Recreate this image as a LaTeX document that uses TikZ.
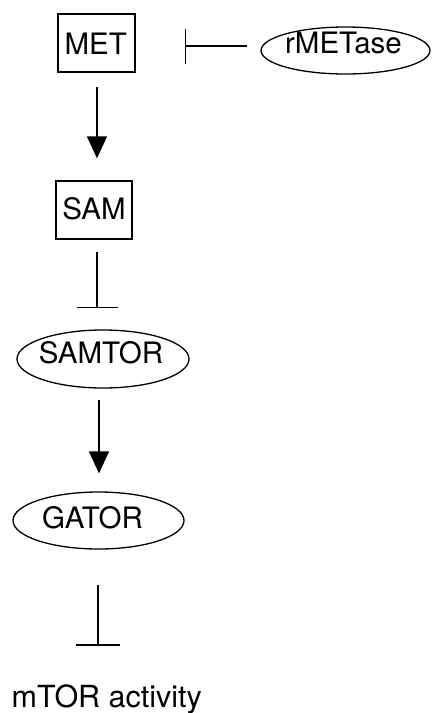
\documentclass[tikz,border=0pt]{standalone}
\usepackage{fontspec}
\setmainfont{TeX Gyre Heros}
\usetikzlibrary{shapes.geometric,arrows.meta}
\begin{document}
\begin{tikzpicture}[x=1pt,y=1pt, line width=1.3pt,
  box/.style={draw, rectangle, minimum width=77pt, minimum height=58pt, inner sep=0},
  oval/.style={draw, ellipse, minimum width=171pt, minimum height=57pt, inner sep=0},
  lbl/.style={inner sep=0, anchor=base, font=\fontsize{29.5}{34}\selectfont},
  act/.style={-{Triangle[width=20pt,length=22pt]}},
  inh/.style={-{Bar[width=#1]}},
]
\useasboundingbox (0,0) rectangle (432,-713);
\node[box] (met) at (96.5,-43) {};
\node[lbl] (mett) at (95.7,-54) {MET};
\node[oval, minimum width=169pt, minimum height=47pt] (rmet) at (345.5,-50.5) {};
\node[lbl] (rmett) at (343.5,-53) {rMETase};
\node[box, minimum width=76pt] (sam) at (94,-210) {};
\node[lbl] (samt) at (94,-219) {SAM};
\node[oval, minimum width=172pt, minimum height=58pt] (samtor) at (103,-359) {};
\node[lbl] (samtort) at (101,-363) {SAMTOR};
\node[oval] (gator) at (98.5,-520.5) {};
\node[lbl] (gatort) at (92.5,-528) {GATOR};
\node[lbl, anchor=base west, font=\fontsize{30.5}{34}\selectfont] (mtor) at (11,-707) {mTOR activity};
\coordinate (hy) at (0,-46);
% connectors
\draw[inh=35pt, shorten <=13pt, shorten >=49pt] (rmet.west |- hy) -- (met.east |- hy);
\draw[act, shorten <=14pt, shorten >=22pt] ([xshift=0.5pt]met.south) -- ([xshift=0.5pt]met.south |- sam.north);
\draw[inh=41pt, shorten <=12pt, shorten >=21pt] ([xshift=3pt]sam.south) -- ([xshift=3pt]sam.south |- samtor.north);
\draw[act, shorten <=11pt, shorten >=18pt] ([xshift=-4pt]samtor.south) -- ([xshift=-4pt]samtor.south |- gator.north);
\draw[inh=44pt, shorten <=35pt, shorten >=38pt] ([xshift=-0.5pt]gator.south) -- ([xshift=-0.5pt]gator.south |- mtor.north);
\end{tikzpicture}
\end{document}
